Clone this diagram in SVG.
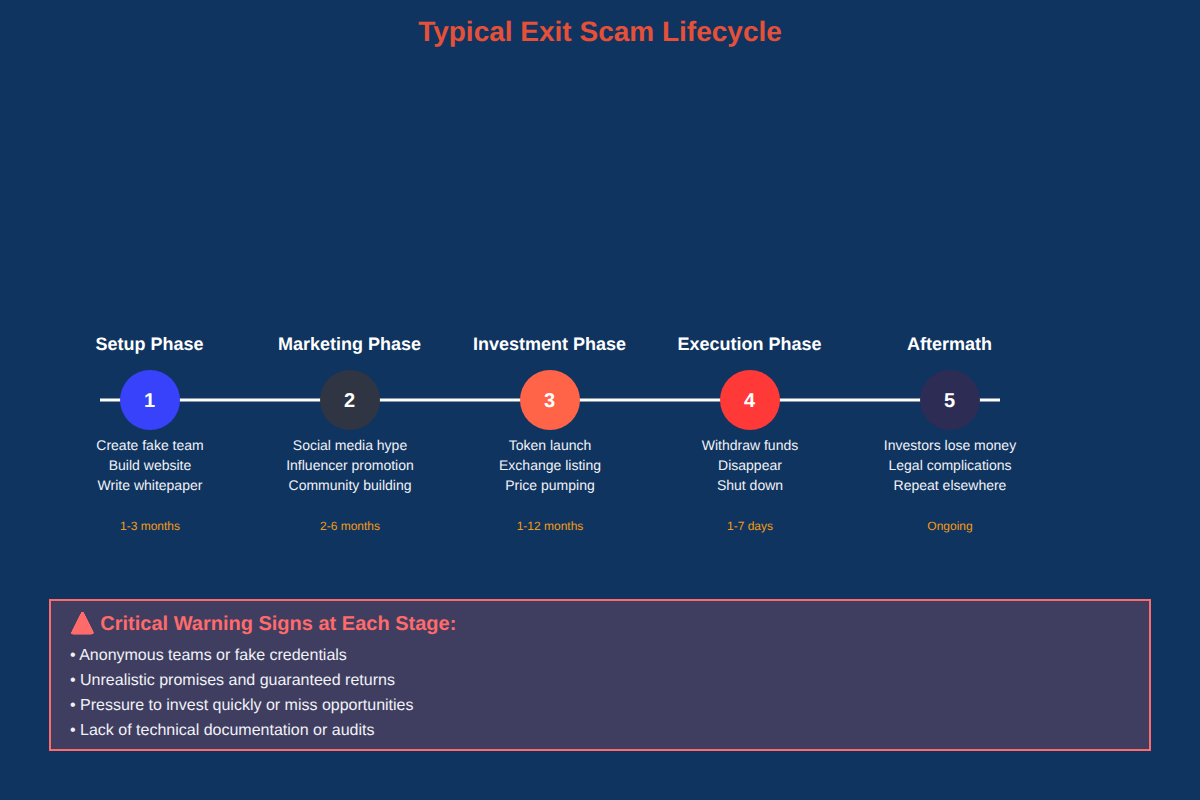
<svg xmlns="http://www.w3.org/2000/svg" width="1200" height="800" viewBox="0 0 1200 800">
<style>
text{font-family:"Liberation Sans",Arial,sans-serif;text-anchor:middle;text-rendering:geometricPrecision}
.t{font-size:18px;font-weight:bold;fill:#fff}
.n{font-size:20px;font-weight:bold;fill:#fff}
.d{font-size:14px;fill:#f1f2f6}
.m{font-size:12px;fill:#f39c12}
.w{font-size:16px;fill:#f1f2f6;text-anchor:start}
</style>
<defs><filter id="tint" x="-20%" y="-20%" width="140%" height="140%" color-interpolation-filters="sRGB"><feComponentTransfer in="SourceAlpha" result="a"><feFuncA type="linear" slope="2.5"/></feComponentTransfer><feFlood flood-color="#ff6b6b"/><feComposite in2="a" operator="in"/></filter></defs>
<rect width="1200" height="800" fill="#0f3460"/>
<text x="600" y="41" font-size="28" font-weight="bold" fill="#e55039">Typical Exit Scam Lifecycle</text>
<g id="connectors"><line x1="100" y1="400" x2="1000" y2="400" stroke="#fff" stroke-width="3"/></g>
<g id="node1"><text class="t" x="149.6" y="350">Setup Phase</text><circle cx="150" cy="400" r="30" fill="#3742fa"/><text class="n" x="149.6" y="407">1</text><text class="d" x="150" y="450">Create fake team</text><text class="d" x="150" y="470">Build website</text><text class="d" x="150" y="490">Write whitepaper</text><text class="m" x="150" y="530">1-3 months</text></g>
<g id="node2"><text class="t" x="349.6" y="350">Marketing Phase</text><circle cx="350" cy="400" r="30" fill="#2f3542"/><text class="n" x="349.6" y="407">2</text><text class="d" x="350" y="450">Social media hype</text><text class="d" x="350" y="470">Influencer promotion</text><text class="d" x="350" y="490">Community building</text><text class="m" x="350" y="530">2-6 months</text></g>
<g id="node3"><text class="t" x="549.6" y="350">Investment Phase</text><circle cx="550" cy="400" r="30" fill="#ff6348"/><text class="n" x="549.6" y="407">3</text><text class="d" x="550" y="450">Token launch</text><text class="d" x="550" y="470">Exchange listing</text><text class="d" x="550" y="490">Price pumping</text><text class="m" x="550" y="530">1-12 months</text></g>
<g id="node4"><text class="t" x="749.6" y="350">Execution Phase</text><circle cx="750" cy="400" r="30" fill="#ff3838"/><text class="n" x="749.6" y="407">4</text><text class="d" x="750" y="450">Withdraw funds</text><text class="d" x="750" y="470">Disappear</text><text class="d" x="750" y="490">Shut down</text><text class="m" x="750" y="530">1-7 days</text></g>
<g id="node5"><text class="t" x="949.6" y="350">Aftermath</text><circle cx="950" cy="400" r="30" fill="#2c2c54"/><text class="n" x="949.6" y="407">5</text><text class="d" x="950" y="450">Investors lose money</text><text class="d" x="950" y="470">Legal complications</text><text class="d" x="950" y="490">Repeat elsewhere</text><text class="m" x="950" y="530">Ongoing</text></g>
<g id="warning"><rect x="50" y="600" width="1100" height="150" fill="#ff6b6b" fill-opacity="0.2" stroke="#ff6b6b" stroke-width="2"/>
<text x="70" y="630" font-size="20" font-weight="bold" filter="url(#tint)" style="text-anchor:start">⚠️</text>
<text x="100.3" y="630" font-size="20" font-weight="bold" fill="#ff6b6b" style="text-anchor:start">Critical Warning Signs at Each Stage:</text>
<text class="w" x="70" y="660">• Anonymous teams or fake credentials</text>
<text class="w" x="70" y="685">• Unrealistic promises and guaranteed returns</text>
<text class="w" x="70" y="710">• Pressure to invest quickly or miss opportunities</text>
<text class="w" x="70" y="735">• Lack of technical documentation or audits</text></g>
</svg>
